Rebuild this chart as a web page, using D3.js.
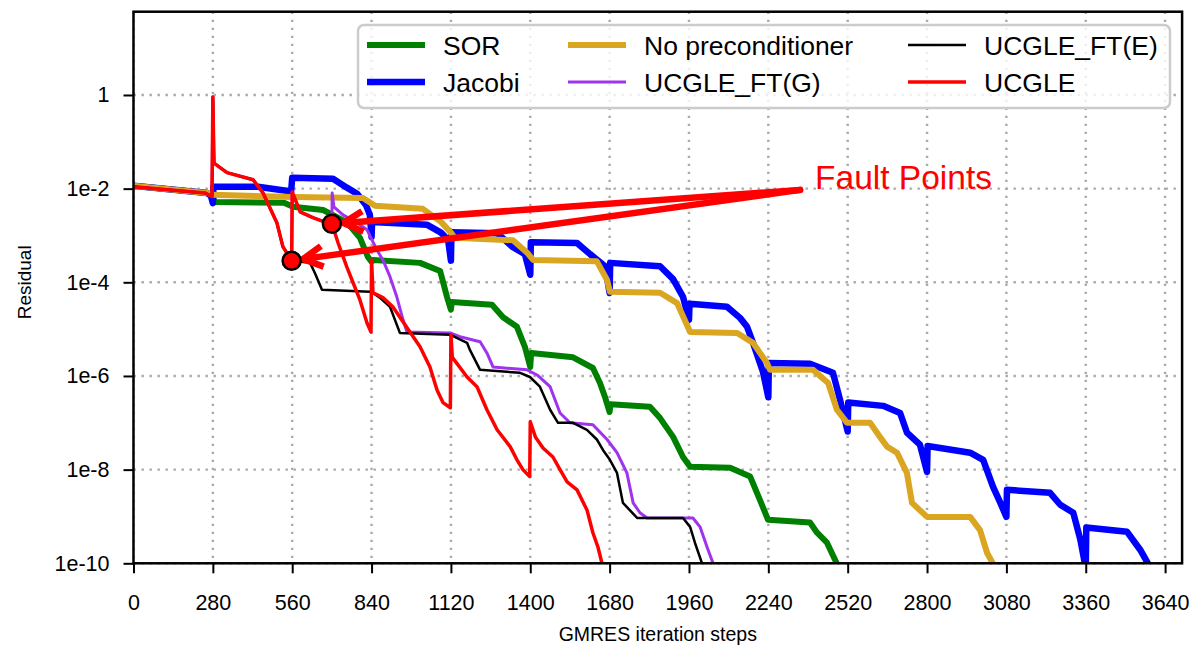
<!DOCTYPE html>
<html>
<head>
<meta charset="utf-8">
<script src="https://cdn.jsdelivr.net/npm/d3@7"></script>
<style>
body { margin: 0; background: #fff; }
svg text { font-family: "Liberation Sans", Arial, sans-serif; fill: #000; }
</style>
</head>
<body>
<div id="chart"></div>
<script>

//====================DATA===================
// [GMRES iteration, residual]

const sor = [[0,1.15e-2],[259,8.1e-3],[281,6.3e-3],[287,5.2e-3],[531,5.0e-3],[563,4.1e-3],[669,3.5e-3],[753,1.9e-3],[799,8.9e-4],[827,3.5e-4],[840,2.75e-4],[845,3.0e-4],[1011,2.6e-4],[1082,1.74e-4],[1106,4.9e-5],[1120,2.6e-5],[1123,3.8e-5],[1265,3.3e-5],[1304,1.8e-5],[1353,1.12e-5],[1381,4.2e-6],[1400,1.55e-6],[1403,3.1e-6],[1551,2.5e-6],[1621,1.48e-6],[1646,7.1e-7],[1664,3.5e-7],[1680,1.7e-7],[1683,2.5e-7],[1822,2.2e-7],[1858,1.26e-7],[1904,5.0e-8],[1939,1.86e-8],[1964,1.15e-8],[2105,1.1e-8],[2176,7.1e-9],[2211,2.2e-9],[2239,8.5e-10],[2387,7.4e-10],[2412,4.5e-10],[2447,2.75e-10],[2482,9.8e-11]];

const jacobi = [[0,1.15e-2],[259,8.1e-3],[273,7.1e-3],[280,4.9e-3],[282,1.1e-2],[439,1.1e-2],[545,8.9e-3],[556,8.5e-3],[560,1.7e-2],[704,1.62e-2],[753,1.05e-2],[789,7.8e-3],[820,4.5e-3],[834,2.75e-3],[840,9.3e-4],[842,1.95e-3],[1035,1.7e-3],[1085,1.15e-3],[1110,8.1e-4],[1120,2.9e-4],[1122,1.17e-3],[1283,1.12e-3],[1339,5.6e-4],[1381,4.0e-4],[1400,1.45e-4],[1402,7.2e-4],[1565,6.9e-4],[1611,4.0e-4],[1664,2.2e-4],[1680,5.9e-5],[1682,2.6e-4],[1858,2.2e-4],[1904,1.17e-4],[1939,4.9e-5],[1960,1.58e-5],[1962,3.5e-5],[2094,3.0e-5],[2140,1.74e-5],[2165,1.12e-5],[2186,5.1e-6],[2221,1.23e-6],[2240,3.5e-7],[2242,1.9e-6],[2387,1.82e-6],[2468,1.17e-6],[2493,3.1e-7],[2520,6.5e-8],[2522,2.7e-7],[2645,2.3e-7],[2705,1.62e-7],[2729,6.2e-8],[2775,3.4e-8],[2800,8.9e-9],[2802,3.2e-8],[2952,2.3e-8],[2998,1.62e-8],[3033,4.3e-9],[3058,2.0e-9],[3080,9.8e-10],[3082,3.7e-9],[3234,3.2e-9],[3270,1.78e-9],[3316,1.2e-9],[3341,3.2e-10],[3360,7.9e-11],[3362,5.8e-10],[3506,4.7e-10],[3552,1.95e-10],[3580,9.8e-11]];

const noPrec = [[0,1.15e-2],[259,8.1e-3],[281,7.4e-3],[563,6.6e-3],[810,6.3e-3],[852,4.3e-3],[1021,3.7e-3],[1085,1.95e-3],[1120,1.15e-3],[1134,8.9e-4],[1339,7.9e-4],[1389,4.3e-4],[1410,3.0e-4],[1635,2.8e-4],[1671,1.12e-4],[1681,6.3e-5],[1858,6.0e-5],[1918,3.6e-5],[1964,8.7e-6],[2130,8.3e-6],[2186,5.1e-6],[2235,1.9e-6],[2246,1.35e-6],[2398,1.35e-6],[2451,7.1e-7],[2482,1.9e-7],[2518,1.0e-7],[2599,1.0e-7],[2634,5.0e-8],[2659,3.1e-8],[2694,2.3e-8],[2729,8.5e-9],[2747,1.95e-9],[2800,9.8e-10],[2952,9.8e-10],[2987,5.1e-10],[3012,1.66e-10],[3033,9.8e-11]];

const ucgle = [[0,1.1e-2],[252,8.1e-3],[277,6.8e-3],[280,0.91],[284,3.5e-2],[330,2.2e-2],[422,1.55e-2],[457,8.1e-3],[506,1.86e-3],[527,5.8e-4],[558,2.9e-4],[560,8.5e-3],[588,3.2e-3],[633,2.4e-3],[683,1.86e-3],[700,1.78e-3],[722,6.9e-4],[753,2.1e-4],[771,1.12e-4],[799,4.2e-5],[824,1.35e-5],[838,8.7e-6],[840,3.0e-4],[845,6.0e-5],[880,4.7e-5],[915,3.0e-5],[940,1.8e-5],[987,6.9e-6],[1011,4.2e-6],[1046,1.55e-6],[1071,5.0e-7],[1092,2.7e-7],[1118,2.1e-7],[1120,7.6e-6],[1125,2.5e-6],[1177,9.5e-7],[1212,5.9e-7],[1247,1.9e-7],[1283,7.1e-8],[1329,3.1e-8],[1353,1.62e-8],[1374,1.0e-8],[1398,7.1e-9],[1400,1.05e-7],[1418,5.0e-8],[1445,2.9e-8],[1480,1.86e-8],[1505,1.0e-8],[1530,5.5e-9],[1565,3.7e-9],[1600,1.38e-9],[1621,4.5e-10],[1639,2.2e-10],[1653,1.0e-10]];

// fault tolerant runs follow UCGLE until their fault point, then go on from these values
const ftGTail = [[700,1.78e-3],[701,8.1e-3],[707,4.1e-3],[739,2.75e-3],[789,1.86e-3],[824,1.32e-3],[859,4.9e-4],[880,3.0e-4],[905,1.32e-4],[929,4.9e-5],[951,1.58e-5],[965,8.7e-6],[1117,8.3e-6],[1152,6.9e-6],[1223,5.4e-6],[1247,3.1e-6],[1269,1.55e-6],[1389,1.35e-6],[1424,1.05e-6],[1470,5.9e-7],[1505,1.62e-7],[1540,1.0e-7],[1621,9.1e-8],[1671,4.4e-8],[1706,2.3e-8],[1741,8.5e-9],[1763,1.95e-9],[1787,1.2e-9],[1812,9.3e-10],[1974,9.3e-10],[1999,6.0e-10],[2024,2.2e-10],[2045,1.0e-10]];

const ftETail = [[558,2.9e-4],[623,2.6e-4],[640,1.58e-4],[665,6.9e-5],[834,6.3e-5],[845,5.9e-5],[869,4.7e-5],[905,3.0e-5],[940,8.3e-6],[1117,7.6e-6],[1177,5.1e-6],[1187,3.6e-6],[1223,1.35e-6],[1364,1.17e-6],[1399,9.5e-7],[1434,5.9e-7],[1470,1.9e-7],[1498,1.0e-7],[1551,1.0e-7],[1600,7.1e-8],[1635,4.4e-8],[1657,2.6e-8],[1681,1.62e-8],[1706,8.5e-9],[1727,1.95e-9],[1777,9.3e-10],[1939,9.3e-10],[1964,6.0e-10],[1981,2.75e-10],[2006,1.0e-10]];

const faultIters = [558, 700];
const faultRes = [2.9e-4, 1.78e-3];
const faultLabel = 'Fault Points';
const faultLabelAt = [2352, 9.4e-3];

const xTicks = [0,280,560,840,1120,1400,1680,1960,2240,2520,2800,3080,3360,3640];
const yTicks = [1, 1e-2, 1e-4, 1e-6, 1e-8, 1e-10];

const seriesNames = ['SOR', 'Jacobi', 'No preconditioner', 'UCGLE_FT(G)', 'UCGLE_FT(E)', 'UCGLE'];

const ucgleFtG = ucgle.filter(d => d[0] < ftGTail[0][0]).concat(ftGTail);
const ucgleFtE = ucgle.filter(d => d[0] < ftETail[0][0]).concat(ftETail);
const seriesData = [sor, jacobi, noPrec, ucgleFtG, ucgleFtE, ucgle];

//====================STYLE===================

const seriesStyle = [
	{color: '#008000', width: 6},
	{color: '#0000ff', width: 6.5},
	{color: '#daa520', width: 6},
	{color: '#a033ee', width: 3},
	{color: '#000000', width: 2.5},
	{color: '#ff0000', width: 3.5}
];

const W = 1202, H = 648;
const margin = {top: 11.7, right: 19.9, bottom: 84.7, left: 133.5};
const innerW = W - margin.left - margin.right;
const innerH = H - margin.top - margin.bottom;

const svg = d3.select('#chart')
.append('svg')
.attr('width', W)
.attr('height', H);

const g = svg.append('g')
.attr('transform', `translate(${margin.left},${margin.top})`);

const x = d3.scaleLinear().domain([0, 3700]).range([0, innerW]);
const y = d3.scaleLog().domain([1e-10, 60]).range([innerH, 0]);

//====================GRID===================

const gridStyle = sel => sel
.attr('stroke', '#aaaaaa')
.attr('stroke-width', 2.4)
.attr('stroke-dasharray', '2.4,5.6');

g.append('g')
.selectAll('line')
.data(xTicks)
.enter()
.append('line')
.attr('x1', d => x(d)).attr('x2', d => x(d))
.attr('y1', 0).attr('y2', innerH)
.call(gridStyle);

g.append('g')
.selectAll('line')
.data(yTicks)
.enter()
.append('line')
.attr('y1', d => y(d)).attr('y2', d => y(d))
.attr('x1', 0).attr('x2', innerW)
.call(gridStyle);

//====================LINES===================

svg.append('defs')
.append('clipPath')
.attr('id', 'plot-clip')
.append('rect')
.attr('width', innerW)
.attr('height', innerH);

const line = d3.line()
.x(d => x(d[0]))
.y(d => y(d[1]));

g.append('g')
.attr('clip-path', 'url(#plot-clip)')
.selectAll('path')
.data(seriesData)
.enter()
.append('path')
.attr('d', line)
.attr('fill', 'none')
.attr('stroke', (d, i) => seriesStyle[i].color)
.attr('stroke-width', (d, i) => seriesStyle[i].width)
.attr('stroke-linejoin', 'round')
.attr('stroke-linecap', 'square');

//====================AXES===================

const xAxis = g.append('g')
.attr('transform', `translate(0,${innerH})`)
.call(d3.axisBottom(x).tickValues(xTicks).tickSize(10).tickPadding(21).tickFormat(d3.format('d')));

const yAxis = g.append('g')
.call(d3.axisLeft(y).tickValues(yTicks).tickSize(10).tickPadding(14)
	.tickFormat(d => d === 1 ? '1' : '1e' + Math.round(Math.log10(d))));

[xAxis, yAxis].forEach(a => {
	a.select('.domain').remove();
	a.selectAll('.tick line').attr('stroke', '#000').attr('stroke-width', 2);
	a.selectAll('.tick text').style('font-size', '21.5px').attr('fill', '#000');
});

g.append('rect')
.attr('width', innerW)
.attr('height', innerH)
.attr('fill', 'none')
.attr('stroke', '#000')
.attr('stroke-width', 2.5);

svg.append('text')
.attr('x', margin.left + innerW / 2)
.attr('y', 641)
.attr('text-anchor', 'middle')
.style('font-size', '19.5px')
.text('GMRES iteration steps');

svg.append('text')
.attr('transform', `translate(31,${margin.top + y(1e-4)}) rotate(-90)`)
.attr('text-anchor', 'middle')
.style('font-size', '19px')
.text('Residual');

//================FAULT ANNOTATION==========================

const start = [x(faultLabelAt[0]), y(faultLabelAt[1])];

const arrows = g.append('g');

faultIters.forEach((it, i) => {
	const c = [x(it), y(faultRes[i])];
	const dx = start[0] - c[0], dy = start[1] - c[1];
	const len = Math.hypot(dx, dy);
	const ux = dx / len, uy = dy / len;
	const tip = [c[0] + ux * 11.5, c[1] + uy * 11.5];

	arrows.append('line')
	.attr('x1', start[0]).attr('y1', start[1])
	.attr('x2', tip[0] + ux * 3).attr('y2', tip[1] + uy * 3)
	.attr('stroke', '#ff0000')
	.attr('stroke-width', 6.5)
	.attr('stroke-linecap', 'round');

	// chevron head
	const headLen = 22, a = 28 * Math.PI / 180;
	const p1 = [tip[0] + headLen * (ux * Math.cos(a) - uy * Math.sin(a)), tip[1] + headLen * (uy * Math.cos(a) + ux * Math.sin(a))];
	const p2 = [tip[0] + headLen * (ux * Math.cos(a) + uy * Math.sin(a)), tip[1] + headLen * (uy * Math.cos(a) - ux * Math.sin(a))];

	arrows.append('path')
	.attr('d', `M${p1}L${tip}L${p2}`)
	.attr('fill', 'none')
	.attr('stroke', '#ff0000')
	.attr('stroke-width', 6.5)
	.attr('stroke-linejoin', 'miter');
});

g.append('g')
.selectAll('circle')
.data(faultIters)
.enter()
.append('circle')
.attr('cx', d => x(d))
.attr('cy', (d, i) => y(faultRes[i]))
.attr('r', 9)
.attr('fill', '#ff0000')
.attr('stroke', '#000')
.attr('stroke-width', 2.5);

g.append('text')
.attr('x', start[0] + 15)
.attr('y', start[1] - 1)
.style('font-size', '33.5px')
.style('fill', '#ff0000')
.text(faultLabel);

//================LEGEND==========================

const legend = svg.append('g');

legend.append('rect')
.attr('x', 358).attr('y', 25)
.attr('width', 812).attr('height', 83)
.attr('rx', 6)
.attr('fill', '#fff')
.attr('fill-opacity', 0.8)
.attr('stroke', '#cccccc')
.attr('stroke-width', 2.5);

const colX = [367, 568, 908];
const rowY = [45, 82];

seriesNames.forEach((name, i) => {
	const col = Math.floor(i / 2), row = i % 2;
	const item = legend.append('g')
	.attr('transform', `translate(${colX[col]},${rowY[row]})`);

	item.append('line')
	.attr('x1', 0).attr('x2', 58)
	.attr('stroke', seriesStyle[i].color)
	.attr('stroke-width', seriesStyle[i].width);

	item.append('text')
	.attr('x', 76)
	.attr('y', 10)
	.style('font-size', '26.5px')
	.text(name);
});

</script>
</body>
</html>
